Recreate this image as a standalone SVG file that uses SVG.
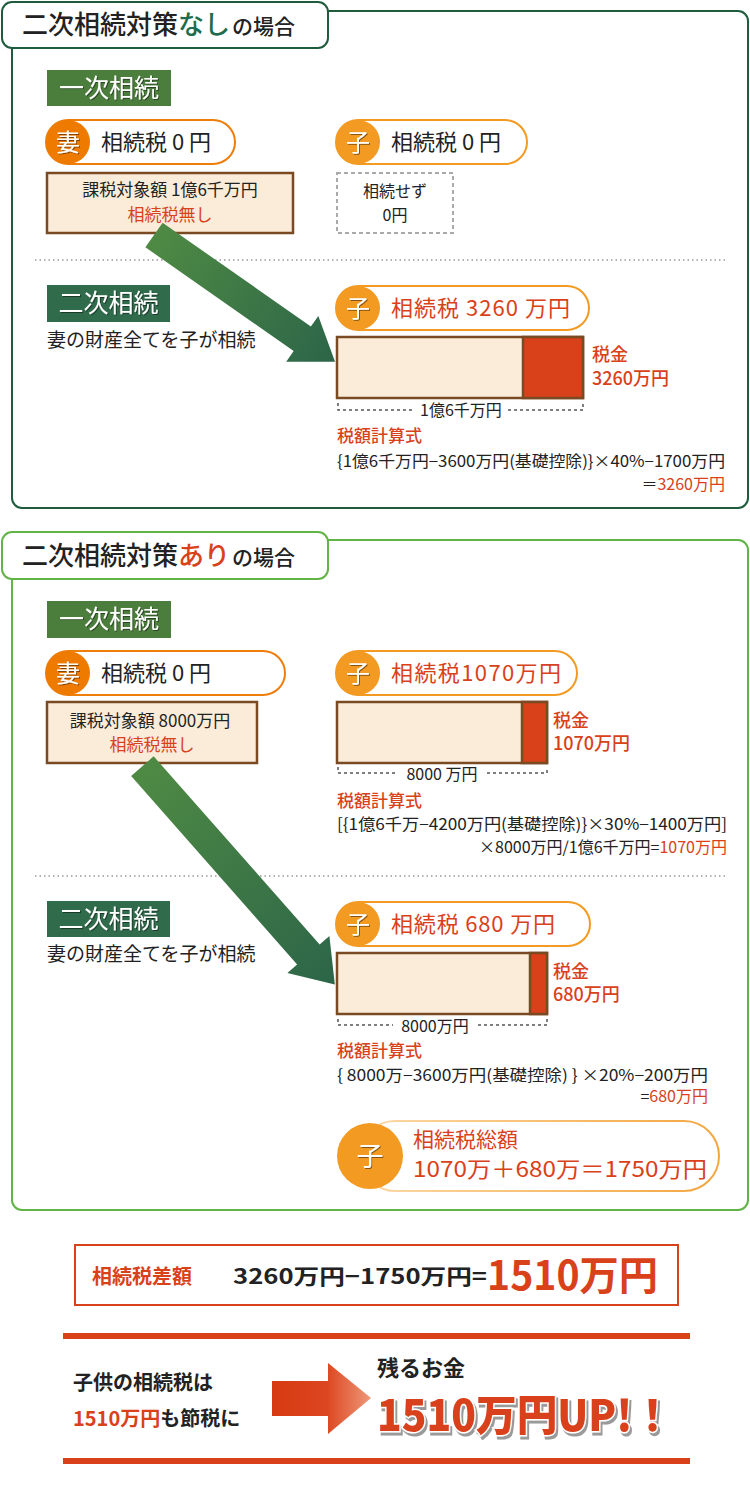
<svg xmlns="http://www.w3.org/2000/svg" width="750" height="1510" viewBox="0 0 750 1510">
<defs>
<style>
text{font-family:'Noto Sans CJK JP','Noto Sans',sans-serif;fill:#222}
.red{fill:#d9411a}
.wt{fill:#fff}
.sec1{fill:#fff;stroke:#1f5c3d;stroke-width:2}
.sec2{fill:#fff;stroke:#62b446;stroke-width:2}
.lbl1{fill:#4b7d3c}
.lbl2{fill:#306b4c}
.wife{fill:#ee7a00}
.child{fill:#f39a22}
.pillw{fill:#fff;stroke:#ee7d0a;stroke-width:2}
.pillc{fill:#fff;stroke:#f39a22;stroke-width:2}
.cream{fill:#faecd9;stroke:#7a4a22;stroke-width:2.5}
.tax{fill:#d9411a;stroke:#7a4a22;stroke-width:2.5}
.dim{fill:none;stroke:#555;stroke-width:1.5;stroke-dasharray:3 3}
.sep{stroke:#999;stroke-width:1.5;stroke-dasharray:1.5 3}
.ptxt{font-size:22px}
.btxt{font-size:17px}
.frm{font-size:16px}
.tg{font-size:18px;font-weight:500}
</style>
<linearGradient id="ga1" gradientUnits="userSpaceOnUse" x1="0" y1="0" x2="221" y2="0">
<stop offset="0" stop-color="#4f8a44"/><stop offset="1" stop-color="#2c6548"/>
</linearGradient>
<linearGradient id="ga2" gradientUnits="userSpaceOnUse" x1="0" y1="0" x2="291" y2="0">
<stop offset="0" stop-color="#4f8a44"/><stop offset="1" stop-color="#2c6548"/>
</linearGradient>
<linearGradient id="gr" gradientUnits="userSpaceOnUse" x1="272" y1="0" x2="371" y2="0">
<stop offset="0" stop-color="#d63a12"/><stop offset="0.55" stop-color="#dc4620"/><stop offset="1" stop-color="#ee9878"/>
</linearGradient>
<linearGradient id="gp" x1="0" y1="0" x2="1" y2="0">
<stop offset="0" stop-color="#fcd9a8"/><stop offset="1" stop-color="#f3a640"/>
</linearGradient>
<filter id="sh" x="-20%" y="-20%" width="140%" height="140%"><feDropShadow dx="1" dy="1" stdDeviation="0.5" flood-color="#000" flood-opacity="0.45"/></filter>
<filter id="sh2" x="-10%" y="-20%" width="120%" height="150%"><feDropShadow dx="2" dy="3" stdDeviation="0.4" flood-color="#9a9a9a" flood-opacity="1"/></filter>
</defs>

<!-- Section 1 -->
<g id="section1-frame">
<rect class="sec1" x="12" y="11" width="736" height="497" rx="10"/>
<rect class="sec1" x="2" y="2" width="326" height="46" rx="10"/>
<text x="22" y="34" font-size="26" font-weight="500">二次相続対策<tspan fill="#1f6b4a">なし</tspan><tspan font-size="21" dx="2">の場合</tspan></text>
<line class="sep" x1="35" y1="260" x2="728" y2="260"/>
</g>

<g id="s1-label1">
<rect class="lbl1" x="47" y="70" width="124" height="36"/>
<text class="wt" x="109" y="97" font-size="25" text-anchor="middle" filter="url(#sh)">一次相続</text>
</g>

<g id="s1-wife">
<rect class="pillw" x="46" y="120" width="189" height="44" rx="22"/>
<circle class="wife" cx="68" cy="142" r="22"/>
<text class="wt" x="68" y="151" font-size="24" text-anchor="middle" filter="url(#sh)">妻</text>
<text class="ptxt" x="101" y="150">相続税 0 円</text>
</g>

<g id="s1-wife-box">
<rect class="cream" x="47" y="173" width="246" height="60"/>
<text class="btxt" x="170" y="196" text-anchor="middle">課税対象額 1億6千万円</text>
<text class="btxt red" x="170" y="221" text-anchor="middle">相続税無し</text>
</g>

<g id="s1-child">
<rect class="pillc" x="336" y="120" width="191" height="44" rx="22"/>
<circle class="child" cx="358" cy="142" r="22"/>
<text class="wt" x="358" y="151" font-size="24" text-anchor="middle" filter="url(#sh)">子</text>
<text class="ptxt" x="391" y="150">相続税 0 円</text>
</g>

<g id="s1-child-box">
<rect x="337" y="173" width="116" height="60" fill="#fff" stroke="#aaa" stroke-width="2" stroke-dasharray="4 3"/>
<text class="frm" x="395" y="197" text-anchor="middle">相続せず</text>
<text class="frm" x="395" y="221" text-anchor="middle">0円</text>
</g>

<g id="s1-label2">
<rect class="lbl2" x="47" y="285" width="123" height="37"/>
<text class="wt" x="108.5" y="312" font-size="25" text-anchor="middle" filter="url(#sh)">二次相続</text>
<text x="47" y="347" font-size="19">妻の財産全てを子が相続</text>
</g>

<g id="s1-child2">
<rect class="pillc" x="336" y="286" width="253" height="44" rx="22"/>
<circle class="child" cx="358" cy="308" r="22"/>
<text class="wt" x="358" y="317" font-size="24" text-anchor="middle" filter="url(#sh)">子</text>
<text class="ptxt red" x="391" y="316" textLength="179">相続税 3260 万円</text>
</g>

<g id="s1-bar">
<rect class="cream" x="337" y="337" width="246" height="61"/>
<rect class="tax" x="523" y="337" width="60" height="61"/>
<text class="tg red" x="592" y="361">税金</text>
<text class="tg red" x="592" y="385">3260万円</text>
<path class="dim" d="M338,403 V410 H414 M508,410 H583 V403"/>
<text class="frm" x="461" y="416" text-anchor="middle">1億6千万円</text>
<text class="red" x="337" y="442" font-size="17" font-weight="500">税額計算式</text>
<text class="frm" x="337" y="467" textLength="388" lengthAdjust="spacingAndGlyphs">{1億6千万円−3600万円(基礎控除)}×40%−1700万円</text>
<text class="frm" x="725" y="490" text-anchor="end">＝<tspan class="red">3260万円</tspan></text>
</g>

<!-- Section 2 -->
<g id="section2-frame">
<rect class="sec2" x="12" y="540" width="736" height="670" rx="10"/>
<rect class="sec2" x="2" y="532" width="326" height="47" rx="10"/>
<text x="22" y="565" font-size="26" font-weight="500">二次相続対策<tspan fill="#d9411a">あり</tspan><tspan font-size="21" dx="2">の場合</tspan></text>
<line class="sep" x1="35" y1="876" x2="728" y2="876"/>
</g>

<g id="s2-label1">
<rect class="lbl1" x="47" y="601" width="124" height="37"/>
<text class="wt" x="109" y="628" font-size="25" text-anchor="middle" filter="url(#sh)">一次相続</text>
</g>

<g id="s2-wife">
<rect class="pillw" x="46" y="651" width="239" height="44" rx="22"/>
<circle class="wife" cx="68" cy="673" r="22"/>
<text class="wt" x="68" y="682" font-size="24" text-anchor="middle" filter="url(#sh)">妻</text>
<text class="ptxt" x="101" y="681">相続税 0 円</text>
</g>

<g id="s2-wife-box">
<rect class="cream" x="47" y="702" width="210" height="61"/>
<text class="btxt" x="150" y="727" text-anchor="middle">課税対象額 8000万円</text>
<text class="btxt red" x="152" y="751" text-anchor="middle">相続税無し</text>
</g>

<g id="s2-child">
<rect class="pillc" x="336" y="651" width="241" height="44" rx="22"/>
<circle class="child" cx="358" cy="673" r="22"/>
<text class="wt" x="358" y="682" font-size="24" text-anchor="middle" filter="url(#sh)">子</text>
<text class="ptxt red" x="391" y="681" textLength="170">相続税1070万円</text>
</g>

<g id="s2-bar1">
<rect class="cream" x="337" y="702" width="210" height="61"/>
<rect class="tax" x="522" y="702" width="25" height="61"/>
<text class="tg red" x="553" y="727">税金</text>
<text class="tg red" x="553" y="750">1070万円</text>
<path class="dim" d="M338,767 V773 H397 M487,773 H547 V767"/>
<text class="frm" x="442" y="780" text-anchor="middle">8000 万円</text>
<text class="red" x="337" y="807" font-size="17" font-weight="500">税額計算式</text>
<text class="frm" x="337" y="830" textLength="390" lengthAdjust="spacingAndGlyphs">[{1億6千万−4200万円(基礎控除)}×30%−1400万円]</text>
<text class="frm" x="727" y="853" text-anchor="end">×8000万円/1億6千万円=<tspan class="red">1070万円</tspan></text>
</g>

<g id="s2-label2">
<rect class="lbl2" x="47" y="901" width="123" height="36"/>
<text class="wt" x="108.5" y="928" font-size="25" text-anchor="middle" filter="url(#sh)">二次相続</text>
<text x="47" y="961" font-size="19">妻の財産全てを子が相続</text>
</g>

<g id="s2-child2">
<rect class="pillc" x="336" y="902" width="254" height="44" rx="22"/>
<circle class="child" cx="358" cy="924" r="22"/>
<text class="wt" x="358" y="933" font-size="24" text-anchor="middle" filter="url(#sh)">子</text>
<text class="ptxt red" x="391" y="932" textLength="164">相続税 680 万円</text>
</g>

<g id="s2-bar2">
<rect class="cream" x="337" y="953" width="210" height="61"/>
<rect class="tax" x="530" y="953" width="17" height="61"/>
<text class="tg red" x="553" y="978">税金</text>
<text class="tg red" x="553" y="1001">680万円</text>
<path class="dim" d="M338,1019 V1025 H393 M478,1025 H547 V1019"/>
<text class="frm" x="435" y="1032" text-anchor="middle">8000万円</text>
<text class="red" x="337" y="1057" font-size="17" font-weight="500">税額計算式</text>
<text class="frm" x="337" y="1081" textLength="371" lengthAdjust="spacingAndGlyphs">{ 8000万−3600万円(基礎控除) } ×20%−200万円</text>
<text class="frm" x="708" y="1102" text-anchor="end">=<tspan class="red">680万円</tspan></text>
</g>

<g id="s2-total">
<rect x="360" y="1121" width="359" height="70" rx="35" fill="#fff" stroke="url(#gp)" stroke-width="2"/>
<circle class="child" cx="370" cy="1156" r="33"/>
<text class="wt" x="370" y="1166" font-size="27" text-anchor="middle" filter="url(#sh)">子</text>
<text class="red" x="413" y="1147" font-size="21">相続税総額</text>
<text class="red" x="413" y="1177" font-size="22" textLength="294" lengthAdjust="spacingAndGlyphs">1070万＋680万＝1750万円</text>
</g>

<g id="connectors">
<polygon transform="translate(154,235) rotate(35)" fill="url(#ga1)" points="0,-15 181,-15 181,-28 221,0 181,28 181,15 0,15"/>
<polygon transform="translate(142.4,766.2) rotate(48.6)" fill="url(#ga2)" points="0,-15 251,-15 251,-28 291,0 251,28 251,15 0,15"/>
</g>

<!-- Bottom summary -->
<g id="difference">
<rect x="75" y="1245" width="603" height="60" fill="#fff" stroke="#d9411a" stroke-width="2"/>
<text class="red" x="92" y="1284" font-size="20" font-weight="700">相続税差額</text>
<text x="233" y="1284" font-size="21" font-weight="700" textLength="254" lengthAdjust="spacingAndGlyphs">3260万円−1750万円=</text>
<text class="red" x="487" y="1290" font-size="40" font-weight="700" textLength="171" lengthAdjust="spacingAndGlyphs">1510万円</text>
</g>

<g id="result">
<rect x="63" y="1333" width="627" height="6" fill="#d9411a"/>
<rect x="63" y="1458" width="627" height="6" fill="#d9411a"/>
<text x="73" y="1390" font-size="20" font-weight="700">子供の相続税は</text>
<text x="73" y="1426" font-size="20" font-weight="700"><tspan class="red">1510万円</tspan>も節税に</text>
<polygon fill="url(#gr)" points="272,1381 328,1381 328,1363 371,1398 328,1434 328,1416 272,1416"/>
<text x="377" y="1376" font-size="22" font-weight="700">残るお金</text>
<text x="377" y="1431" font-size="43" font-weight="900" stroke="#fff" stroke-width="3" paint-order="stroke" filter="url(#sh2)" textLength="296" lengthAdjust="spacingAndGlyphs" style="fill:#d9411a">1510万円UP!！</text>
</g>
</svg>
